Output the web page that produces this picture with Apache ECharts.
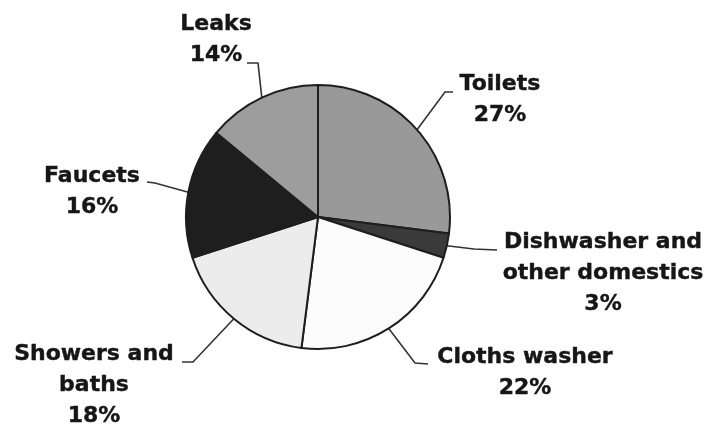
<!DOCTYPE html>
<html>
<head>
<meta charset="utf-8">
<script src="https://cdn.jsdelivr.net/npm/echarts@6/dist/echarts.min.js"></script>
<style>
  html, body { margin: 0; padding: 0; background: #fff; }
  #chart { width: 709px; height: 427px; }
</style>
</head>
<body>
<div id="chart"></div>
<script>
const categories = [
  "Toilets",
  "Dishwasher and\nother domestics",
  "Cloths washer",
  "Showers and\nbaths",
  "Faucets",
  "Leaks",
];
const shares = [27, 3, 22, 18, 16, 14];
const sliceColors = ["#999999", "#3a3a3a", "#fbfbfb", "#ececec", "#1e1e1e", "#9d9d9d"];

// label block centres and the bend / end of each leader line
const labelSpots = [
  { x: 500, y: 100, bend: [445, 92], end: [453, 92] },
  { x: 603, y: 273, bend: [474, 249], end: [497, 250] },
  { x: 525, y: 373, bend: [415, 363], end: [428, 364] },
  { x: 94, y: 385, bend: [193, 362], end: [182, 362] },
  { x: 92, y: 192, bend: [155, 183], end: [147, 182] },
  { x: 216, y: 40, bend: [258, 63], end: [247, 63] },
];

const chart = echarts.init(document.getElementById("chart"));

chart.setOption({
  animation: false,
  series: [
    {
      type: "pie",
      center: [318, 217],
      radius: 132,
      startAngle: 90,
      clockwise: true,
      data: categories.map((name, i) => ({
        name,
        value: shares[i],
        itemStyle: { color: sliceColors[i] },
      })),
      itemStyle: { borderColor: "#1e1e1e", borderWidth: 2 },
      label: {
        show: true,
        formatter: "{b}\n{c}%",
        fontFamily: "DejaVu Sans",
        fontWeight: "bold",
        fontSize: 22,
        lineHeight: 31,
        color: "#161616",
        textBorderColor: "#161616",
        textBorderWidth: 0.4,
        align: "center",
      },
      labelLine: {
        show: true,
        lineStyle: { color: "#333", width: 1.6 },
      },
      labelLayout(params) {
        const spot = labelSpots[params.dataIndex];
        const start = params.labelLinePoints ? params.labelLinePoints[0] : spot.bend;
        return {
          x: spot.x,
          y: spot.y,
          align: "center",
          verticalAlign: "middle",
          labelLinePoints: [start, spot.bend, spot.end],
        };
      },
      emphasis: { disabled: true },
    },
  ],
});
</script>
</body>
</html>
